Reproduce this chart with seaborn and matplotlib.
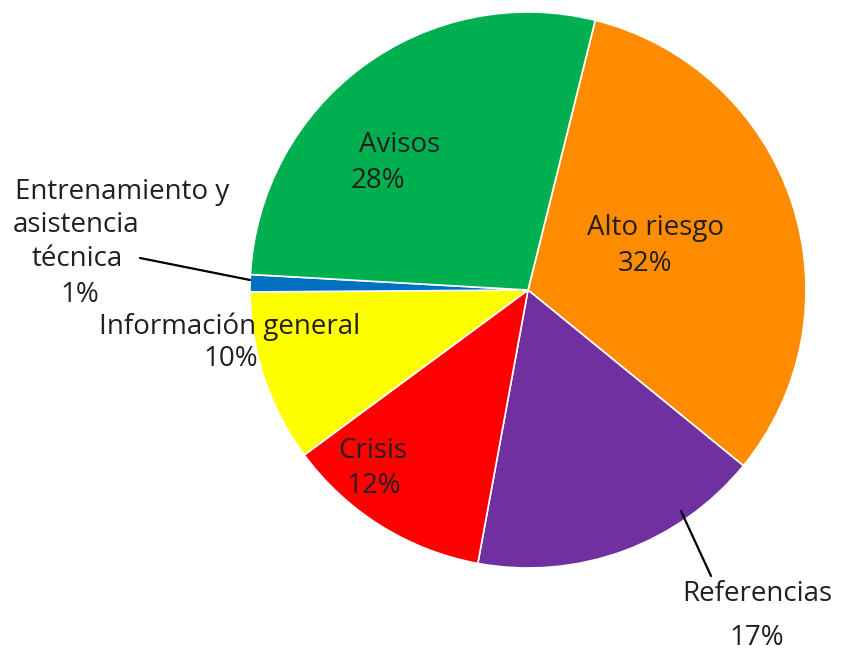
import matplotlib
matplotlib.use("Agg")
import matplotlib.pyplot as plt
import seaborn as sns

# DATA ===========================================================================================================

categories = ["Alto riesgo", "Referencias", "Crisis", "Información general",
              "Entrenamiento y asistencia técnica", "Avisos"]
values = [32, 17, 12, 10, 1, 28]
colors = ["#FF8C00", "#7030A0", "#FF0000", "#FFFF00", "#0070C0", "#00B050"]

sns.set_theme(style="white")
plt.rcParams["font.family"] = ["Open Sans", "DejaVu Sans"]

TEXT_COLOR = "#231F20"
FS = 20

# pie centre / radius in pixels of the 846x654 canvas
CX, CY, R = 528, 290, 278
W, H = 846, 654


def px(x, y):
    # pixel position -> data coords (pie radius = 1)
    return (x - CX) / R, (CY - y) / R


fig = plt.figure(figsize=(8.46, 6.54), dpi=100)
ax = fig.add_axes([0, 0, 1, 1])
ax.pie(values, colors=colors, startangle=76, counterclock=False, radius=1,
       wedgeprops={"edgecolor": "white", "linewidth": 1.2})
ax.set_aspect("auto")
ax.set_xlim(-CX / R, (W - CX) / R)
ax.set_ylim(-(H - CY) / R, CY / R)
ax.axis("off")

labels = [
    ("Avisos", 400, 145), ("28%", 378, 181),
    ("Alto riesgo", 655, 228), ("32%", 645, 264),
    ("Crisis", 373, 451), ("12%", 374, 486),
    ("Información general", 230, 327), ("10%", 231, 359),
    ("Entrenamiento y", 122, 192), ("asistencia", 76, 225), ("técnica", 77, 259), ("1%", 80, 295),
    ("Referencias", 757, 594), ("17%", 757, 638),
]
for txt, x, y in labels:
    tx, ty = px(x, y)
    ax.text(tx, ty, txt, ha="center", va="center", fontsize=FS, color=TEXT_COLOR)

# leader lines
for (x0, y0), (x1, y1) in [((140, 258), (250, 280)), ((681, 511), (711, 576))]:
    a, b = px(x0, y0)
    c, d = px(x1, y1)
    ax.plot([a, c], [b, d], color="black", linewidth=1.6)

plt.savefig("out.png", dpi=100)
